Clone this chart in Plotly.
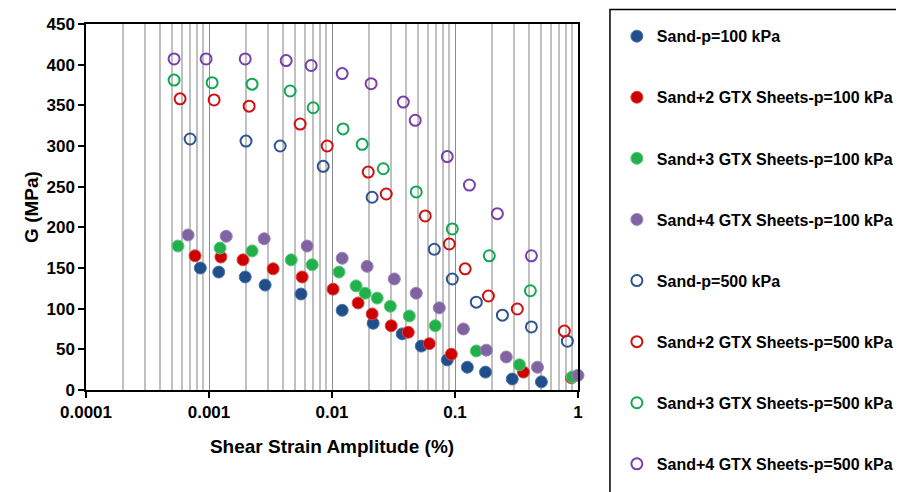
import plotly.graph_objects as go

# ---- data (shear strain amplitude in %, G in MPa) ----
x_sand_100 = [0.00085, 0.0012, 0.00197, 0.00286, 0.0056, 0.0121, 0.0216, 0.0372, 0.0532, 0.0865, 0.126, 0.177, 0.292, 0.504]
g_sand_100 = [150, 145, 139, 129, 118, 98, 82, 69, 54, 37, 28, 22, 13.5, 10]

x_gtx2_100 = [0.00077, 0.00125, 0.00189, 0.00332, 0.00572, 0.0102, 0.0163, 0.0212, 0.0303, 0.0417, 0.0618, 0.0933, 0.36, 0.884]
g_gtx2_100 = [165, 163.5, 160, 149, 139, 124, 107, 93.5, 79, 71, 57, 44, 22, 15]

x_gtx3_100 = [0.00056, 0.00123, 0.00224, 0.00466, 0.0069, 0.0114, 0.0157, 0.0186, 0.0233, 0.0298, 0.0425, 0.0691, 0.149, 0.334, 0.90]
g_gtx3_100 = [177, 174.6, 171, 160, 154, 145, 128, 119, 113, 103, 91, 79, 48, 31, 16]

x_gtx4_100 = [0.000676, 0.00138, 0.00281, 0.00628, 0.0121, 0.0193, 0.0321, 0.0484, 0.0745, 0.117, 0.180, 0.261, 0.468, 1.0]
g_gtx4_100 = [190.6, 189, 186, 177, 162, 152, 136.5, 119, 101, 75, 49, 40.6, 28, 18]

x_sand_500 = [0.000702, 0.0020, 0.00379, 0.00848, 0.0212, 0.0679, 0.0951, 0.149, 0.243, 0.418, 0.82]
g_sand_500 = [308.6, 306, 300, 275, 237, 173, 136.5, 108, 92, 77.5, 60]

x_gtx2_500 = [0.000582, 0.0011, 0.00212, 0.00551, 0.00914, 0.0197, 0.0276, 0.0573, 0.0899, 0.121, 0.187, 0.321, 0.775]
g_gtx2_500 = [358, 356.6, 349, 327, 300, 268, 241, 214, 179.5, 149, 115.6, 99.6, 72.5]

x_gtx3_500 = [0.00052, 0.00106, 0.00224, 0.00457, 0.00703, 0.0123, 0.0176, 0.0261, 0.0484, 0.0951, 0.19, 0.41]
g_gtx3_500 = [381, 377.8, 376, 367.6, 347, 321, 302, 272, 243.5, 198, 165, 122]

x_gtx4_500 = [0.00052, 0.000947, 0.00197, 0.00424, 0.00677, 0.0121, 0.0208, 0.038, 0.0475, 0.0865, 0.131, 0.221, 0.418]
g_gtx4_500 = [407, 407, 407, 405, 399, 389, 376.6, 354, 331.6, 287, 252, 216.8, 165]

names = [
    "Sand-p=100 kPa",
    "Sand+2 GTX Sheets-p=100 kPa",
    "Sand+3 GTX Sheets-p=100 kPa",
    "Sand+4 GTX Sheets-p=100 kPa",
    "Sand-p=500 kPa",
    "Sand+2 GTX Sheets-p=500 kPa",
    "Sand+3 GTX Sheets-p=500 kPa",
    "Sand+4 GTX Sheets-p=500 kPa",
]

x_tick_vals = [0.0001, 0.001, 0.01, 0.1, 1]
x_tick_text = ["0.0001", "0.001", "0.01", "0.1", "1"]
y_tick_vals = [0, 50, 100, 150, 200, 250, 300, 350, 400, 450]

filled_colors = ["#1f4e8a", "#cc0000", "#22b04b", "#8064a2"]
filled_edges = ["#4a74a8", "#dd4444", "#5cc87a", "#9a84b8"]
hollow_colors = ["#2f5490", "#d01010", "#10a850", "#7a3fa8"]

xs = [x_sand_100, x_gtx2_100, x_gtx3_100, x_gtx4_100, x_sand_500, x_gtx2_500, x_gtx3_500, x_gtx4_500]
gs = [g_sand_100, g_gtx2_100, g_gtx3_100, g_gtx4_100, g_sand_500, g_gtx2_500, g_gtx3_500, g_gtx4_500]

fig = go.Figure()
for i in range(8):
    if i < 4:
        marker = dict(symbol="circle", size=12, color=filled_colors[i],
                      line=dict(color=filled_edges[i], width=1))
    else:
        marker = dict(symbol="circle-open", size=11, color=hollow_colors[i - 4],
                      line=dict(color=hollow_colors[i - 4], width=2))
    fig.add_trace(go.Scatter(x=xs[i], y=gs[i], mode="markers", name=names[i],
                             marker=marker, cliponaxis=False, legendgroup=f"g{i}"))

minor_vals = [k * 10.0 ** e for e in range(-4, 0) for k in range(2, 10)]

bold = dict(family="Liberation Sans", color="black", weight="bold")

# the page body adds an 8px offset; compensate in size and margins
fig.update_layout(
    width=896, height=484,
    margin=dict(l=78, r=326, t=16, b=102, autoexpand=False),
    paper_bgcolor="white", plot_bgcolor="white",
    font=dict(family="Liberation Sans", color="black"),
    xaxis=dict(
        type="log", range=[-4, 0],
        tickmode="array", tickvals=x_tick_vals, ticktext=x_tick_text,
        tickfont=dict(**bold, size=17),
        showgrid=True, gridcolor="#8c8c8c", gridwidth=1,
        minor=dict(tickmode="array", tickvals=minor_vals, showgrid=True,
                   gridcolor="#c0c0c0", gridwidth=1.5, ticks=""),
        showline=True, linecolor="black", linewidth=1.5, mirror=True,
        ticks="outside", ticklen=6, tickcolor="black", tickwidth=1.5,
        zeroline=False,
        title=dict(text="Shear Strain Amplitude (%)", font=dict(**bold, size=19), standoff=19),
    ),
    yaxis=dict(
        range=[0, 450], tickmode="array", tickvals=y_tick_vals,
        tickfont=dict(**bold, size=17),
        showgrid=False,
        showline=True, linecolor="black", linewidth=1.5, mirror=True,
        ticks="outside", ticklen=6, tickcolor="black", tickwidth=1.5,
        zeroline=False,
        title=dict(text="G (MPa)", font=dict(**bold, size=19), standoff=3),
    ),
    legend=dict(
        x=1.079, y=1.013, xanchor="left", yanchor="top",
        font=dict(**bold, size=16),
        tracegroupgap=37.3, bgcolor="rgba(0,0,0,0)", borderwidth=0,
        maxheight=1.0,
    ),
    showlegend=True,
    shapes=[dict(type="rect", xref="paper", yref="paper",
                 x0=1.065, x1=1.70, y0=-0.30, y1=1.0396,
                 line=dict(color="black", width=1.5), fillcolor="rgba(0,0,0,0)",
                 layer="below")],
)

fig.write_html("out.html")
